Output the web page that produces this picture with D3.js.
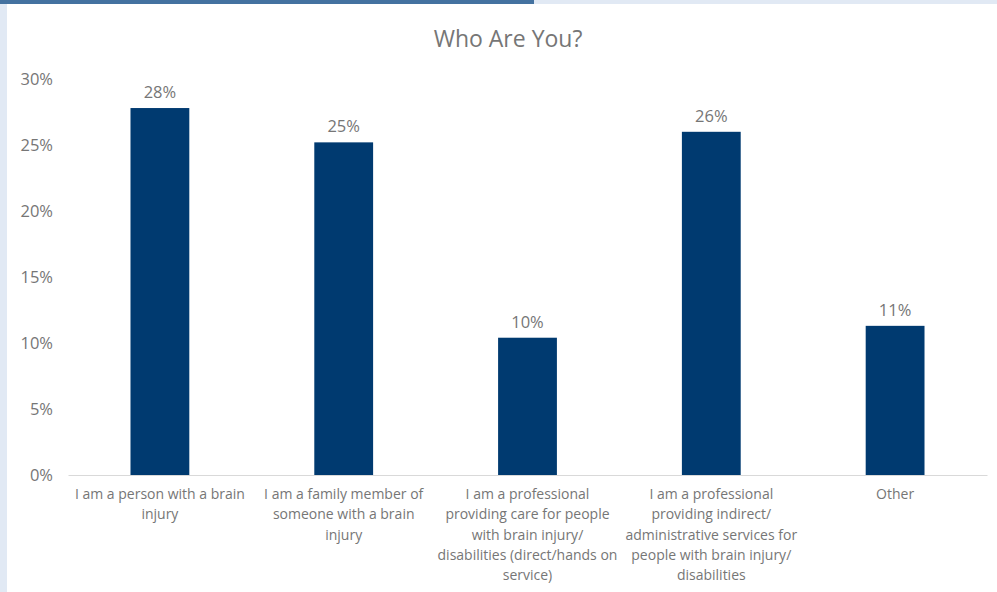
<!DOCTYPE html>
<html>
<head>
<meta charset="utf-8">
<script src="https://cdn.jsdelivr.net/npm/d3@7"></script>
<style>
  html, body { margin: 0; padding: 0; background: #fff; }
  svg { display: block; font-family: "Open Sans", "Noto Sans", sans-serif; }
</style>
</head>
<body>
<svg id="chart" width="997" height="592"></svg>
<script>
// Survey responses: share of respondents per group
const categories = [
  "I am a person with a brain injury",
  "I am a family member of someone with a brain injury",
  "I am a professional providing care for people with brain injury/ disabilities (direct/hands on service)",
  "I am a professional providing indirect/ administrative services for people with brain injury/ disabilities",
  "Other"
];
const categoryLines = [
  ["I am a person with a brain", "injury"],
  ["I am a family member of", "someone with a brain", "injury"],
  ["I am a professional", "providing care for people", "with brain injury/", "disabilities (direct/hands on", "service)"],
  ["I am a professional", "providing indirect/", "administrative services for", "people with brain injury/", "disabilities"],
  ["Other"]
];
const shares = [0.278, 0.252, 0.104, 0.260, 0.113];
const yTicks = [0, 0.05, 0.10, 0.15, 0.20, 0.25, 0.30];
const title = "Who Are You?";

const svg = d3.select("#chart");
const W = 997, H = 592;
const m = { left: 68, right: 10, top: 79, bottom: 117 };

// frame strips
svg.append("rect").attr("x", 0).attr("y", 0).attr("width", W).attr("height", H).attr("fill", "#fff");
svg.append("rect").attr("x", 0).attr("y", 0).attr("width", 7).attr("height", H).attr("fill", "#e1e9f4");
svg.append("rect").attr("x", 534).attr("y", 0).attr("width", W - 534).attr("height", 4).attr("fill", "#e1e9f4");
svg.append("rect").attr("x", 0).attr("y", 0).attr("width", 534).attr("height", 4).attr("fill", "#4472a0");

const x = d3.scaleBand()
  .domain(categories)
  .range([m.left, W - m.right])
  .paddingInner(0.68)
  .paddingOuter(0.34);

const y = d3.scaleLinear()
  .domain([0, 0.30])
  .range([H - m.bottom, m.top]);

const textColor = "#767676";

// title
svg.append("text")
  .attr("x", 508).attr("y", 47)
  .attr("text-anchor", "middle")
  .attr("font-size", 23)
  .attr("fill", textColor)
  .text(title);

// y axis (labels only)
const yAxis = svg.append("g")
  .attr("transform", `translate(${m.left},0)`)
  .call(d3.axisLeft(y).tickValues(yTicks).tickFormat(d3.format(".0%")).tickSize(0).tickPadding(15));
yAxis.select(".domain").remove();
yAxis.selectAll("text").attr("font-size", 16.5).attr("fill", textColor)
  .attr("font-family", "'Open Sans', sans-serif");

// bars
svg.append("g").selectAll("rect")
  .data(categories)
  .join("rect")
  .attr("x", d => x(d))
  .attr("width", x.bandwidth())
  .attr("y", (d, i) => y(shares[i]))
  .attr("height", (d, i) => y(0) - y(shares[i]))
  .attr("fill", "#003a70");

// x axis baseline
const xAxis = svg.append("g")
  .attr("transform", `translate(0,${y(0)})`)
  .call(d3.axisBottom(x).tickSize(0).tickFormat(""));
xAxis.select(".domain").attr("stroke", "#d9d9d9").attr("stroke-width", 1.2);

// category labels
const labels = svg.append("g").selectAll("text")
  .data(categories)
  .join("text")
  .attr("x", d => x(d) + x.bandwidth() / 2)
  .attr("y", y(0) + 24)
  .attr("text-anchor", "middle")
  .attr("font-size", 14)
  .attr("fill", textColor);
labels.each(function(d, i) {
  d3.select(this).selectAll("tspan")
    .data(categoryLines[i])
    .join("tspan")
    .attr("x", x(d) + x.bandwidth() / 2)
    .attr("dy", (l, j) => j === 0 ? 0 : 20.3)
    .text(l => l);
});

// value labels
svg.append("g").selectAll("text")
  .data(categories)
  .join("text")
  .attr("x", d => x(d) + x.bandwidth() / 2)
  .attr("y", (d, i) => y(shares[i]) - 10)
  .attr("text-anchor", "middle")
  .attr("font-size", 16.5)
  .attr("fill", textColor)
  .text((d, i) => d3.format(".0%")(shares[i]));
</script>
</body>
</html>
